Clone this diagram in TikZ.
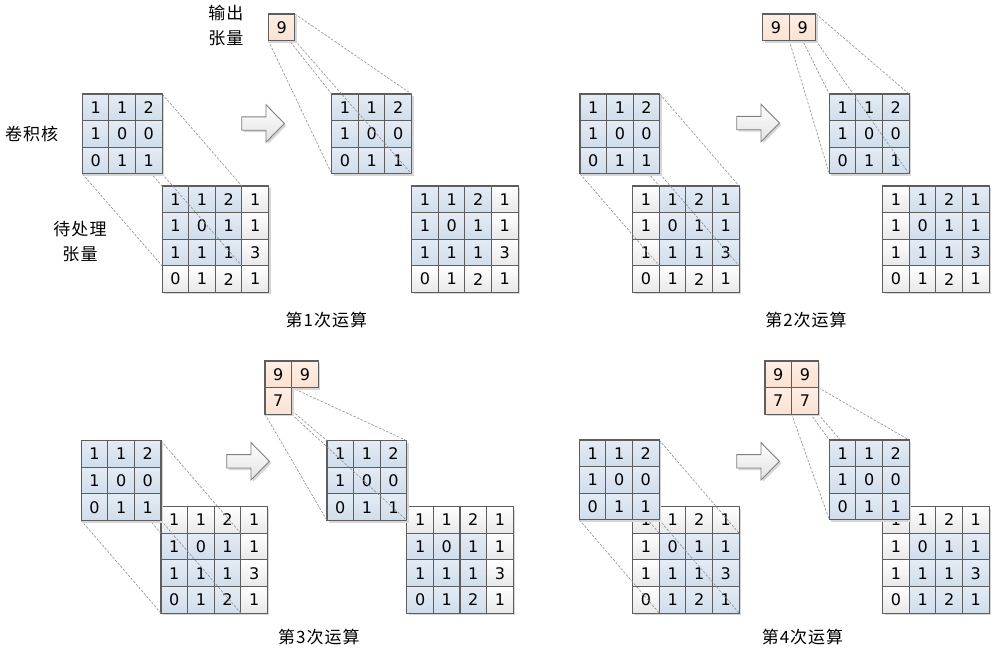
\documentclass[tikz,border=0pt]{standalone}
\usepackage{fontspec}
\setmainfont{DejaVu Sans}
\newfontfamily\cjk{Noto Sans CJK SC}[LetterSpace=6]
\usetikzlibrary{calc}
\pgfdeclarelayer{bgl}
\pgfdeclarelayer{inl}
\pgfdeclarelayer{lna}
\pgfdeclarelayer{kerl}
\pgfdeclarelayer{lnb}
\pgfsetlayers{bgl,inl,lna,kerl,lnb,main}
\definecolor{bordc}{HTML}{5E5E5E}
\definecolor{bluetop}{HTML}{E4ECF5}
\definecolor{bluebot}{HTML}{CFDDEB}
\definecolor{whitebot}{HTML}{E8E8E8}
\definecolor{peach}{HTML}{FBE2D2}
\definecolor{peachtop}{HTML}{FDEEE4}
\definecolor{guidec}{HTML}{8E8E8E}
\definecolor{shadowc}{HTML}{D6D6D6}
\definecolor{arrowline}{HTML}{7F7F7F}
\definecolor{arrowbot}{HTML}{E2E2E2}
\tikzset{
  cellbase/.style={draw=bordc, line width=1.1pt, minimum width=26.6pt, minimum height=26.6pt,
    inner sep=0pt, outer sep=0pt, anchor=north west, font=\fontsize{16}{16}\selectfont},
  bluecell/.style={cellbase, top color=bluetop, bottom color=bluebot},
  whitecell/.style={cellbase, top color=white, bottom color=whitebot},
  outcell/.style={cellbase, top color=peachtop, bottom color=peach},
  guide/.style={draw=guidec, line width=0.6pt, dash pattern=on 2.5pt off 1.5pt},
  lbl/.style={font=\cjk\fontsize{17}{25}\selectfont, align=center, inner sep=0pt},
  arrowsty/.style={draw=arrowline, line width=0.9pt, top color=white, bottom color=arrowbot, line join=miter},
}
% kernel 3x3
\newcommand\kernelmat[3]{%
  \begin{pgfonlayer}{kerl}
  \fill[shadowc] ({#2+2},{#3+2}) rectangle ++(79.8,79.8);
  \foreach \v [count=\i from 0] in {1,1,2,1,0,0,0,1,1}{%
    \pgfmathtruncatemacro\mr{\i/3}%
    \pgfmathtruncatemacro\mc{\i-3*\mr}%
    \node[bluecell] (#1-\mr-\mc) at ({#2+\mc*26.6},{#3+\mr*26.6}) {\v};
  }
  \end{pgfonlayer}}
% input 4x4 with highlighted 3x3 window at row #4, col #5
\newcommand\inputmat[5]{%
  \begin{pgfonlayer}{inl}
  \fill[shadowc] ({#2+2},{#3+2}) rectangle ++(106.4,106.4);
  \foreach \v [count=\i from 0] in {1,1,2,1,1,0,1,1,1,1,1,3,0,1,2,1}{%
    \pgfmathtruncatemacro\mr{\i/4}%
    \pgfmathtruncatemacro\mc{\i-4*\mr}%
    \pgfmathtruncatemacro\hl{(\mr>=#4)*(\mr<=(#4+2))*(\mc>=#5)*(\mc<=(#5+2))}%
    \ifnum\hl=1
      \node[bluecell] (#1-\mr-\mc) at ({#2+\mc*26.6},{#3+\mr*26.6}) {\v};
    \else
      \node[whitecell] (#1-\mr-\mc) at ({#2+\mc*26.6},{#3+\mr*26.6}) {\v};
    \fi
  }
  \end{pgfonlayer}}
% output cell
\newcommand\outcellat[4]{%
  \fill[shadowc] ({#2+2},{#3+2}) rectangle ++(26.6,26.6);
  \node[outcell] (#1) at (#2,#3) {#4};}
% kernel -> window links
\newcommand\linkKI[4]{%
  \pgfmathtruncatemacro\ra{#3+2}\pgfmathtruncatemacro\ca{#4+2}%
  \begin{pgfonlayer}{lna}
  \draw[guide] (#1-0-0.north west) -- (#2-#3-#4.north west);
  \draw[guide] (#1-0-2.north east) -- (#2-#3-\ca.north east);
  \draw[guide] (#1-2-0.south west) -- (#2-\ra-#4.south west);
  \draw[guide] (#1-2-2.south east) -- (#2-\ra-\ca.south east);
  \end{pgfonlayer}}
% output cell -> kernel links, #3 = layer
\newcommand\linkOK[3]{%
  \begin{pgfonlayer}{#3}
  \draw[guide] (#1.north west) -- (#2-0-0.north west);
  \draw[guide] (#1.north east) -- (#2-0-2.north east);
  \draw[guide] (#1.south west) -- (#2-2-0.south west);
  \draw[guide] (#1.south east) -- (#2-2-2.south east);
  \end{pgfonlayer}}
% block arrow: left x, centre y
\newcommand\bigarrow[2]{%
  \fill[shadowc] ({#1+2},{#2-6.7+2}) -- ({#1+24.3+2},{#2-6.7+2}) -- ({#1+24.3+2},{#2-18.7+2})
    -- ({#1+42.7+2},{#2+2}) -- ({#1+24.3+2},{#2+18.7+2}) -- ({#1+24.3+2},{#2+6.7+2}) -- ({#1+2},{#2+6.7+2}) -- cycle;
  \path[arrowsty] (#1,{#2-6.7}) -- ({#1+24.3},{#2-6.7}) -- ({#1+24.3},{#2-18.7})
    -- ({#1+42.7},#2) -- ({#1+24.3},{#2+18.7}) -- ({#1+24.3},{#2+6.7}) -- (#1,{#2+6.7}) -- cycle;}
\begin{document}
\begin{tikzpicture}[x=1pt,y=-1pt]
\useasboundingbox (0,0) rectangle (996,648);
\begin{pgfonlayer}{bgl}
\fill[white] (0,0) rectangle (996,648);
\end{pgfonlayer}

% ---------- panel 1 ----------
\kernelmat{p1k}{82.3}{94}
\inputmat{p1i}{162.1}{186}{0}{0}
\linkKI{p1k}{p1i}{0}{0}
\kernelmat{p1q}{331.7}{94}
\inputmat{p1j}{411.7}{186}{0}{0}
\outcellat{p1o-0-0}{268.3}{14}{9}
\linkOK{p1o-0-0}{p1q}{lnb}
\bigarrow{241.7}{123.5}
\node[lbl] (lout) at (226,26) {输出\\张量};
\node[lbl] (lker) at (31.7,134) {卷积核};
\node[lbl] (lin) at (80,242) {待处理\\张量};
\node[lbl] (cap1) at (326.5,320) {第1次运算};

% ---------- panel 2 ----------
\kernelmat{p2k}{580}{94}
\inputmat{p2i}{632.7}{186}{0}{1}
\linkKI{p2k}{p2i}{0}{1}
\kernelmat{p2q}{829.3}{94}
\inputmat{p2j}{882.7}{186}{0}{1}
\outcellat{p2o-0-0}{762.7}{14}{9}
\outcellat{p2o-0-1}{789.3}{14}{9}
\linkOK{p2o-0-1}{p2q}{lnb}
\bigarrow{736.7}{123}
\node[lbl] (cap2) at (806,320) {第2次运算};

% ---------- panel 3 ----------
\kernelmat{p3k}{81.2}{440.7}
\inputmat{p3i}{161}{506.7}{1}{0}
\linkKI{p3k}{p3i}{1}{0}
\kernelmat{p3q}{327}{440.7}
\inputmat{p3j}{406.8}{506.7}{1}{0}
\outcellat{p3o-0-0}{265}{361}{9}
\outcellat{p3o-0-1}{291.6}{361}{9}
\outcellat{p3o-1-0}{265}{387.6}{7}
\linkOK{p3o-1-0}{p3q}{lnb}
\bigarrow{226.7}{461.3}
\node[lbl] (cap3) at (319,637) {第3次运算};

% ---------- panel 4 ----------
\kernelmat{p4k}{579.3}{440}
\inputmat{p4i}{632.7}{506.7}{1}{1}
\linkKI{p4k}{p4i}{1}{1}
\kernelmat{p4q}{829.3}{440}
\inputmat{p4j}{882.7}{506.7}{1}{1}
\outcellat{p4o-0-0}{765}{361}{9}
\outcellat{p4o-0-1}{791.6}{361}{9}
\outcellat{p4o-1-0}{765}{387.6}{7}
\outcellat{p4o-1-1}{791.6}{387.6}{7}
\linkOK{p4o-1-1}{p4q}{lna}
\bigarrow{736.7}{461.3}
\node[lbl] (cap4) at (802.5,637) {第4次运算};
\end{tikzpicture}
\end{document}
